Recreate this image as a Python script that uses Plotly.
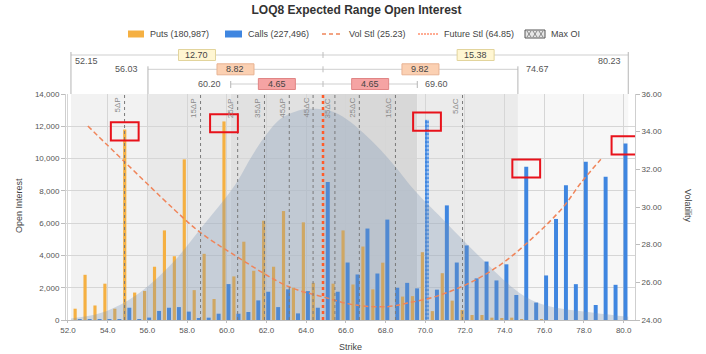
import plotly.graph_objects as go

# ---------------- data ----------------
strikes = [52.5, 53.0, 53.5, 54.0, 54.5, 55.0, 55.5, 56.0, 56.5, 57.0, 57.5, 58.0, 58.5, 59.0,
           59.5, 60.0, 60.5, 61.0, 61.5, 62.0, 62.5, 63.0, 63.5, 64.0, 64.5, 65.0, 65.5, 66.0,
           66.5, 67.0, 67.5, 68.0, 68.5, 69.0, 69.5, 70.0, 70.5, 71.0, 71.5, 72.0, 72.5, 73.0,
           73.5, 74.0, 74.5, 75.0, 75.5, 76.0, 76.5, 77.0, 77.5, 78.0, 78.5, 79.0, 79.5, 80.0]
puts = [700, 2800, 900, 2250, 700, 11800, 1700, 1800, 3300, 5550, 3950, 9950, 1850, 4100,
        1300, 12300, 2700, 4850, 3050, 6150, 3300, 6750, 2000, 6050, 2300, 0, 2250, 5550,
        2200, 4550, 1900, 3550, 0, 1450, 1480, 4200, 550, 2900, 1200, 620, 310, 310,
        145, 100, 145, 40, 0, 30, 0, 0, 0, 0, 0, 0, 0, 0]
calls = [40, 30, 30, 30, 30, 760, 30, 150, 560, 760, 800, 520, 100, 145,
         390, 2225, 390, 495, 1215, 1750, 800, 1900, 410, 1790, 760, 8550, 1750, 3560,
         2820, 5665, 2880, 6220, 2000, 2300, 1960, 12400, 1880, 7100, 3560, 4620, 2580, 3620,
         2450, 3450, 1550, 9500, 1080, 2760, 6260, 8340, 2220, 9810, 930, 8880, 2180, 10930]
max_oi_strike = 70.0

vol_strikes = [53.0, 54.85, 57.35, 58.6, 60.35, 63.1, 64.85, 66.43, 68.1, 69.1, 70.5, 71.85,
               73.0, 74.35, 76.85, 77.85, 78.85]
vol_values = [34.3, 32.4, 29.87, 28.7, 27.47, 25.78, 25.23, 24.8, 24.71, 24.9, 25.24, 25.78,
              26.4, 27.38, 29.87, 31.29, 32.53]

dist_strikes = [52.15, 53.6, 55.0, 56.13, 57.39, 58.65, 60.41, 61.17, 61.82, 62.68, 63.44, 64.0,
                65.2, 66.04, 66.87, 67.72, 68.56, 69.48, 71.08, 72.76, 74.77, 76.03, 78.5, 80.23]
dist_values = [100, 415, 1200, 2200, 3700, 5600, 8340, 9955, 11200, 12440, 12900, 13070,
               12960, 12440, 11600, 10580, 9400, 8000, 6000, 3900, 1660, 930, 450, 200]

future_settle = 64.85
vol_settle = 25.23
range_low = [60.20, 56.03, 52.15]    # inner, middle, outer
range_high = [69.60, 74.67, 80.23]
range_down = ["4.65", "8.82", "12.70"]
range_up = ["4.65", "9.82", "15.38"]

delta_labels = ["5ΔP", "15ΔP", "25ΔP", "35ΔP", "45ΔP", "45ΔC", "35ΔC", "25ΔC", "15ΔC", "5ΔC"]
delta_strikes = [54.85, 58.68, 60.55, 61.9, 63.15, 64.35, 65.45, 66.68, 68.5, 71.88]

highlights = [(55.0, "put"), (60.0, "put"), (70.0, "call"), (75.0, "call"), (80.0, "call")]

puts_total = "180,987"
calls_total = "227,496"

x_ticks = [52.0, 54.0, 56.0, 58.0, 60.0, 62.0, 64.0, 66.0, 68.0, 70.0, 72.0, 74.0, 76.0, 78.0, 80.0]

# ---------------- layout geometry ----------------
W, H = 706, 354
L, R, T, B = 66, 71, 94, 34
PW, PH = W - L - R, H - T - B
X0, X1 = 51.9, 80.57

PUT_C = "#f5b042"
CALL_C = "#3f86e0"
VOL_C = "#f0855a"
FUT_C = "#ff5b29"
FONT = "Liberation Sans, Arial, sans-serif"

PUT_OFF, PUT_W = -0.22, 0.16
CALL_OFF, CALL_W = -0.01, 0.2


def xp(v):
    return (v - X0) / (X1 - X0)


def px2x(p):
    return (p - L) / PW


def py2y(p):
    return (H - B - p) / PH


fig = go.Figure()

# distribution (bell)
fig.add_trace(go.Scatter(x=dist_strikes, y=dist_values, mode="lines", line=dict(width=0, shape="spline"),
                         fill="tozeroy", fillcolor="rgba(120,145,180,0.30)", hoverinfo="skip",
                         showlegend=False))

fig.add_trace(go.Bar(x=strikes, y=puts, name=f"Puts ({puts_total})", marker_color=PUT_C,
                     offset=PUT_OFF, width=PUT_W, marker_line_width=0, showlegend=False))
calls_plot = [None if s == max_oi_strike else v for s, v in zip(strikes, calls)]
fig.add_trace(go.Bar(x=strikes, y=calls_plot, name=f"Calls ({calls_total})", marker_color=CALL_C,
                     offset=CALL_OFF, width=CALL_W, marker_line_width=0, showlegend=False))
max_val = calls[strikes.index(max_oi_strike)]
fig.add_trace(go.Bar(x=[max_oi_strike], y=[max_val], name="Max OI", offset=CALL_OFF, width=CALL_W,
                     marker=dict(color=CALL_C, line_width=0,
                                 pattern=dict(shape=".", fgcolor="white", size=4, solidity=0.45)),
                     showlegend=False))

fig.add_trace(go.Scatter(x=vol_strikes, y=vol_values, yaxis="y2", mode="lines",
                         name=f"Vol Stl ({vol_settle})",
                         line=dict(color=VOL_C, width=1.5, dash="5px,3px", shape="spline"),
                         showlegend=False))
fig.add_trace(go.Scatter(x=[future_settle, future_settle], y=[0, 14000], mode="lines",
                         name=f"Future Stl ({future_settle})",
                         line=dict(color=FUT_C, width=2.5, dash="dot"), showlegend=False))

shapes = []
annotations = []

# background bands
edges = [range_low[2], range_low[1], range_low[0], future_settle, range_high[0], range_high[1], range_high[2]]
band_colors = ["#f2f2f2", "#e9e9e9", "#e1e1e1", "#d8d8d8", "#ebebeb", "#f7f7f7"]
for i, c in enumerate(band_colors):
    shapes.append(dict(type="rect", xref="x", yref="paper", x0=edges[i], x1=edges[i + 1], y0=0, y1=1,
                       fillcolor=c, line_width=0, layer="below"))

# delta lines
for lab, s in zip(delta_labels, delta_strikes):
    shapes.append(dict(type="line", xref="x", yref="paper", x0=s, x1=s, y0=0, y1=1,
                       line=dict(color="#7a7a7a", width=1, dash="dot"), layer="above"))
    annotations.append(dict(x=s, y=1, xref="x", yref="paper", text=lab, showarrow=False,
                            textangle=-90, xanchor="right", yanchor="top", xshift=-1, yshift=-2,
                            font=dict(size=8, color="#8a8a8a", family=FONT)))

# red highlight boxes
for s, side in highlights:
    idx = strikes.index(s)
    if side == "put":
        v = puts[idx]
        cx = s + PUT_OFF + PUT_W / 2
    else:
        v = calls[idx]
        cx = s + CALL_OFF + CALL_W / 2
    shapes.append(dict(type="rect", xref="x", yref="y", x0=cx - 0.7, x1=cx + 0.7, y0=v - 675, y1=v + 450,
                       line=dict(color="#e8121b", width=2), fillcolor="rgba(0,0,0,0)", layer="above"))

# expected range rows
row_y = [84, 69.3, 55]  # inner, middle, outer (px)
box_fill = ["#f5a3a3", "#fbd0b2", "#fff6d2"]
box_line = ["#e08585", "#e8b393", "#e2d49c"]
BOXW, BOXH = 37, 11
for i in range(3):
    yy = py2y(row_y[i])
    lo, hi = range_low[i], range_high[i]
    shapes.append(dict(type="line", xref="paper", yref="paper", x0=xp(lo), x1=xp(hi), y0=yy, y1=yy,
                       line=dict(color="#cfcfcf", width=1)))
    # end verticals
    top = py2y(row_y[i] - 3)
    bot = py2y(T)
    if i == 0:
        bot = py2y(row_y[i] + 4)
    for e in (lo, hi):
        shapes.append(dict(type="line", xref="paper", yref="paper", x0=xp(e), x1=xp(e), y0=top, y1=bot,
                           line=dict(color="#b5b5b5", width=1)))
    # centre tick
    shapes.append(dict(type="line", xref="paper", yref="paper", x0=xp(future_settle), x1=xp(future_settle),
                       y0=py2y(row_y[i] - 3), y1=py2y(row_y[i] + 3), line=dict(color="#bdbdbd", width=1)))
    # diff boxes
    for (a, b_), lab in (((lo, future_settle), range_down[i]), ((future_settle, hi), range_up[i])):
        mid = xp((a + b_) / 2)
        hw = BOXW / 2 / PW
        hh = BOXH / 2 / PH
        shapes.append(dict(type="rect", xref="paper", yref="paper", x0=mid - hw, x1=mid + hw,
                           y0=yy - hh, y1=yy + hh, fillcolor=box_fill[i],
                           line=dict(color=box_line[i], width=1)))
        annotations.append(dict(x=mid, y=yy, xref="paper", yref="paper", text=lab,
                                showarrow=False, xanchor="center", yanchor="middle",
                                font=dict(size=9, color="#444", family=FONT)))
    # end labels
    if i == 2:
        annotations.append(dict(x=xp(lo), y=py2y(row_y[i] + 5.5), xref="paper", yref="paper",
                                text=f"{lo:.2f}", showarrow=False, xanchor="left", yanchor="middle",
                                xshift=2, font=dict(size=9, color="#555", family=FONT)))
        annotations.append(dict(x=xp(hi), y=py2y(row_y[i] + 5.5), xref="paper", yref="paper",
                                text=f"{hi:.2f}", showarrow=False, xanchor="right", yanchor="middle",
                                xshift=-5, font=dict(size=9, color="#555", family=FONT)))
    else:
        annotations.append(dict(x=xp(lo), y=yy, xref="paper", yref="paper", text=f"{lo:.2f}",
                                showarrow=False, xanchor="right", yanchor="middle", xshift=-8,
                                font=dict(size=9, color="#555", family=FONT)))
        annotations.append(dict(x=xp(hi), y=yy, xref="paper", yref="paper", text=f"{hi:.2f}",
                                showarrow=False, xanchor="left", yanchor="middle", xshift=6,
                                font=dict(size=9, color="#555", family=FONT)))

# custom legend
LEG_Y = 34
ly = py2y(LEG_Y)
leg_items = [
    ("rect", PUT_C, 128, 144, f"Puts ({puts_total})", 148),
    ("rect", CALL_C, 225, 242, f"Calls ({calls_total})", 246),
    ("dash", VOL_C, 322, 343, f"Vol Stl ({vol_settle})", 347),
    ("dot", FUT_C, 418, 438, f"Future Stl ({future_settle})", 442),
    ("box", "#777", 525, 545, "Max OI", 549),
]
for kind, col, a, b_, txt, tx in leg_items:
    if kind == "rect":
        shapes.append(dict(type="rect", xref="paper", yref="paper", x0=px2x(a), x1=px2x(b_),
                           y0=py2y(LEG_Y + 3.5), y1=py2y(LEG_Y - 3.5), fillcolor=col, line_width=0))
    elif kind == "dash":
        shapes.append(dict(type="line", xref="paper", yref="paper", x0=px2x(a), x1=px2x(b_), y0=ly, y1=ly,
                           line=dict(color=col, width=1.5, dash="4px,3px")))
    elif kind == "dot":
        shapes.append(dict(type="line", xref="paper", yref="paper", x0=px2x(a), x1=px2x(b_), y0=ly, y1=ly,
                           line=dict(color=col, width=1.2, dash="2px,1px")))
    else:
        shapes.append(dict(type="rect", xref="paper", yref="paper", x0=px2x(a), x1=px2x(b_),
                           y0=py2y(LEG_Y + 4), y1=py2y(LEG_Y - 4), fillcolor="#e6e6e6",
                           line=dict(color="#555", width=1)))
        for k in range(3):
            xa = a + 2 + k * 6
            shapes.append(dict(type="line", xref="paper", yref="paper", x0=px2x(xa), x1=px2x(xa + 4),
                               y0=py2y(LEG_Y + 3), y1=py2y(LEG_Y - 3), line=dict(color="#888", width=1)))
            shapes.append(dict(type="line", xref="paper", yref="paper", x0=px2x(xa), x1=px2x(xa + 4),
                               y0=py2y(LEG_Y - 3), y1=py2y(LEG_Y + 3), line=dict(color="#888", width=1)))
    annotations.append(dict(x=px2x(tx), y=ly, xref="paper", yref="paper", text=txt, showarrow=False,
                            xanchor="left", yanchor="middle", font=dict(size=9, color="#444", family=FONT)))

# axis titles
annotations.append(dict(x=px2x(12), y=py2y(206), xref="paper", yref="paper", text="Open Interest",
                        showarrow=False, textangle=-90, font=dict(size=9, color="#444", family=FONT)))
annotations.append(dict(x=px2x(695), y=py2y(206), xref="paper", yref="paper", text="Volatility",
                        showarrow=False, textangle=90, font=dict(size=9, color="#444", family=FONT)))
annotations.append(dict(x=px2x(350), y=py2y(347), xref="paper", yref="paper", text="Strike",
                        showarrow=False, yanchor="middle", font=dict(size=9, color="#444", family=FONT)))

fig.update_layout(
    width=W, height=H,
    margin=dict(l=L, r=R, t=T, b=B, pad=0),
    paper_bgcolor="white", plot_bgcolor="white",
    barmode="overlay",
    showlegend=False,
    title=dict(text="<b>LOQ8 Expected Range Open Interest</b>", x=0.505, xanchor="center",
               y=1 - 10 / H, yanchor="middle", font=dict(size=12, color="#333", family=FONT)),
    font=dict(family=FONT, size=8, color="#555"),
    xaxis=dict(range=[X0, X1], tickvals=x_ticks, ticktext=[f"{v:.1f}" for v in x_ticks],
               showgrid=True, gridcolor="#d6d6d6", gridwidth=1, zeroline=False,
               showline=True, linecolor="#bdbdbd", ticks="outside", ticklen=2, tickcolor="#bdbdbd",
               tickfont=dict(size=8, color="#555")),
    yaxis=dict(range=[0, 14000], dtick=2000, tickformat=",", showgrid=True, gridcolor="#d6d6d6",
               zeroline=False, showline=True, linecolor="#cfcfcf", ticks="outside", ticklen=4,
               tickcolor="#bdbdbd", tickfont=dict(size=8, color="#555")),
    yaxis2=dict(range=[24, 36], dtick=2, tickformat=".2f", overlaying="y", side="right",
                showgrid=False, zeroline=False, showline=True, linecolor="#cfcfcf", ticks="outside",
                ticklen=4, tickcolor="#bdbdbd", tickfont=dict(size=8, color="#555")),
    shapes=shapes,
    annotations=annotations,
    hovermode=False,
)

fig.write_html("out.html")
